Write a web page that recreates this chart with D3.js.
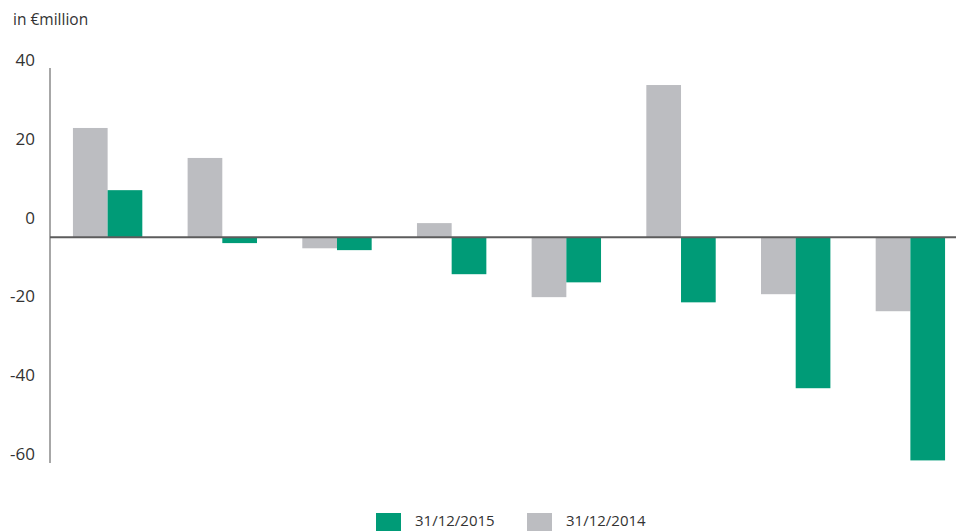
<!DOCTYPE html>
<html>
<head>
<meta charset="utf-8">
<script src="https://cdn.jsdelivr.net/npm/d3@7"></script>
<style>
  html, body { margin: 0; padding: 0; background: #fff; }
  svg { display: block; font-family: "Open Sans", "Lato", sans-serif; }
</style>
</head>
<body>
<svg id="chart" width="956" height="531"></svg>
<script>
// Change by category, in € million
const categories = ["A", "B", "C", "D", "E", "F", "G", "H"];
const values2015 = [12.7, -1.6, -3.5, -10.0, -12.2, -17.6, -40.8, -60.3];
const values2014 = [29.5, 21.4, -3.0, 3.8, -16.2, 41.1, -15.4, -20.0];
const seriesNames = ["31/12/2015", "31/12/2014"];
const yTicks = [40, 20, 0, -20, -40, -60];
const unitLabel = "in €million";

const colors = { "31/12/2015": "#009b77", "31/12/2014": "#bcbdc1" };

const svg = d3.select("#chart");
const W = 956, H = 531;
const plotLeft = 50, plotRight = 968, plotTop = 68, plotBottom = 463;

// value scale for the bars
const y = d3.scaleLinear().domain([-61, 45.7]).range([plotBottom, plotTop]);
// tick labels sit on their own, slightly offset scale
const yLabel = d3.scaleLinear().domain([-60, 40]).range([454, 60]);

const x0 = d3.scaleBand().domain(categories).range([plotLeft, plotRight])
  .paddingInner(0.395).paddingOuter(0.2);
const x1 = d3.scaleBand().domain(["31/12/2014", "31/12/2015"])
  .range([0, x0.bandwidth()]);

const rows = categories.map((c, i) => ({
  cat: c,
  vals: [
    { key: "31/12/2014", v: values2014[i] },
    { key: "31/12/2015", v: values2015[i] }
  ]
}));

// bars
const g = svg.append("g");
g.selectAll("g.grp").data(rows).join("g")
  .attr("class", "grp")
  .attr("transform", d => `translate(${x0(d.cat)},0)`)
  .selectAll("rect").data(d => d.vals).join("rect")
  .attr("x", d => x1(d.key))
  .attr("width", x1.bandwidth())
  .attr("y", d => y(Math.max(0, d.v)))
  .attr("height", d => Math.abs(y(d.v) - y(0)))
  .attr("fill", d => colors[d.key]);

// vertical axis line
svg.append("line")
  .attr("x1", plotLeft).attr("x2", plotLeft)
  .attr("y1", plotTop).attr("y2", plotBottom)
  .attr("stroke", "#8a8a8a").attr("stroke-width", 1.5);

// zero line
svg.append("line")
  .attr("x1", plotLeft).attr("x2", W)
  .attr("y1", y(0)).attr("y2", y(0))
  .attr("stroke", "#5c5c5c").attr("stroke-width", 2);

// tick labels
const axis = d3.axisLeft(yLabel).tickValues(yTicks).tickSize(0).tickPadding(0)
  .tickFormat(d => String(d));
const ax = svg.append("g").attr("transform", "translate(35,0)").call(axis);
ax.select(".domain").remove();
ax.selectAll("text")
  .attr("fill", "#333").attr("font-size", 17)
  .attr("font-family", "'Open Sans', Lato, sans-serif");

// unit label
svg.append("text")
  .attr("x", 13).attr("y", 25)
  .attr("fill", "#333").attr("font-size", 15.5)
  .text(unitLabel);

// legend
const legend = svg.append("g").attr("transform", "translate(376,513)");
const li = legend.selectAll("g").data(seriesNames).join("g")
  .attr("transform", (d, i) => `translate(${i * 151},0)`);
li.append("rect").attr("width", 25).attr("height", 25)
  .attr("fill", d => colors[d]);
li.append("text").attr("x", 39).attr("y", 13)
  .attr("fill", "#333").attr("font-size", 15)
  .text(d => d);
</script>
</body>
</html>
